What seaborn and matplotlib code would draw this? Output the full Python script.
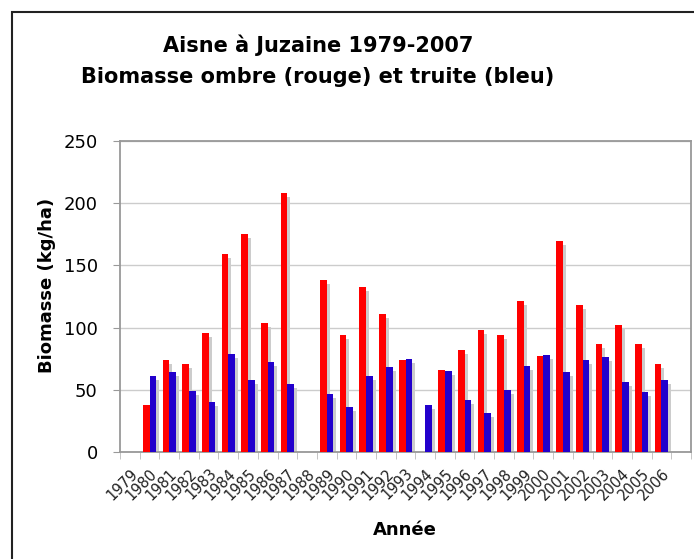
import numpy as np
import pandas as pd
import matplotlib.pyplot as plt
import matplotlib.transforms as mtransforms
from matplotlib.patches import Rectangle
import seaborn as sns

# Categories on the x axis (1979 and 2007 have no data)
years = [str(y) for y in range(1979, 2008)]
tick_labels = [str(y) for y in range(1979, 2007)] + [""]

# Biomasse ombre (rouge), kg/ha
ombre = [np.nan, 38, 74, 71, 96, 159, 175, 104, 208, np.nan,
         138, 94, 133, 111, 74, np.nan, 66, 82, 98, 94,
         121, 77, 170, 118, 87, 102, 87, 71, np.nan]
# Biomasse truite (bleu), kg/ha
truite = [np.nan, 61, 64, 49, 40, 79, 58, 72, 55, np.nan,
          47, 36, 61, 68, 75, 38, 65, 42, 31, 50,
          69, 78, 64, 74, 76, 56, 48, 58, np.nan]

df = pd.DataFrame({"Année": years, "ombre": ombre, "truite": truite})
long = df.melt(id_vars="Année", var_name="espece", value_name="Biomasse").dropna()

sns.set_style("white")
plt.rcParams["font.family"] = ["DejaVu Sans"]
plt.rcParams["text.color"] = "black"
plt.rcParams["xtick.color"] = "black"
plt.rcParams["ytick.color"] = "black"

fig = plt.figure(figsize=(6.94, 5.59), dpi=100)
ax = fig.add_axes([120 / 694, 1 - 452 / 559, 571 / 694, 311 / 559])

sns.barplot(data=long, x="Année", y="Biomasse", hue="espece", order=years,
            hue_order=["ombre", "truite"], palette={"ombre": "#ff0000", "truite": "#2200cc"},
            width=0.68, gap=0, legend=False, ax=ax, zorder=3, saturation=1)

# drop shadows behind each bar
shadow = mtransforms.ScaledTranslation(3 / 100, -4 / 100, fig.dpi_scale_trans)
for p in list(ax.patches):
    s = Rectangle(p.get_xy(), p.get_width(), p.get_height(),
                  transform=ax.transData + shadow, color="#cccccc", lw=0, zorder=2)
    ax.add_patch(s)
    p.set_linewidth(0)

ax.set_ylim(0, 250)
ax.set_xlim(-0.5, len(years) - 0.5)
ax.set_yticks([0, 50, 100, 150, 200, 250])
ax.yaxis.grid(True, color="#cccccc", lw=1, zorder=0)
ax.tick_params(axis="y", labelsize=13, length=5, color="#999999", direction="out", left=True, pad=11)
ax.set_xticks(range(len(years)))
ax.set_xticklabels(tick_labels, rotation=45, ha="right", rotation_mode="anchor", fontsize=10.5)
ax.tick_params(axis="x", length=0, pad=10, labelcolor="#222222")
ax.set_xticks(np.arange(-0.5, len(years)), minor=True)
ax.tick_params(axis="x", which="minor", length=5, color="#bbbbbb", direction="out", bottom=True)
for sp in ax.spines.values():
    sp.set_color("#999999")
    sp.set_linewidth(1.3)
ax.set_xlabel("")
ax.set_ylabel("")

fig.text(318 / 694, 1 - 45 / 559, "Aisne à Juzaine 1979-2007", ha="center", va="center",
         fontsize=15, fontweight="bold")
fig.text(318 / 694, 1 - 77 / 559, "Biomasse ombre (rouge) et truite (bleu)", ha="center", va="center",
         fontsize=15, fontweight="bold")
fig.text(47 / 694, 1 - 285 / 559, "Biomasse (kg/ha)", rotation=90, ha="center", va="center",
         fontsize=13, fontweight="bold")
fig.text(405 / 694, 1 - 530 / 559, "Année", ha="center", va="center", fontsize=13, fontweight="bold")

# frame around the whole chart (cropped on the right and bottom)
fig.add_artist(Rectangle((12 / 694, -0.1), 1.0, 1 - 12 / 559 + 0.1, transform=fig.transFigure,
                         fill=False, edgecolor="#222222", lw=1.5))

fig.savefig("out.png", dpi=100)
